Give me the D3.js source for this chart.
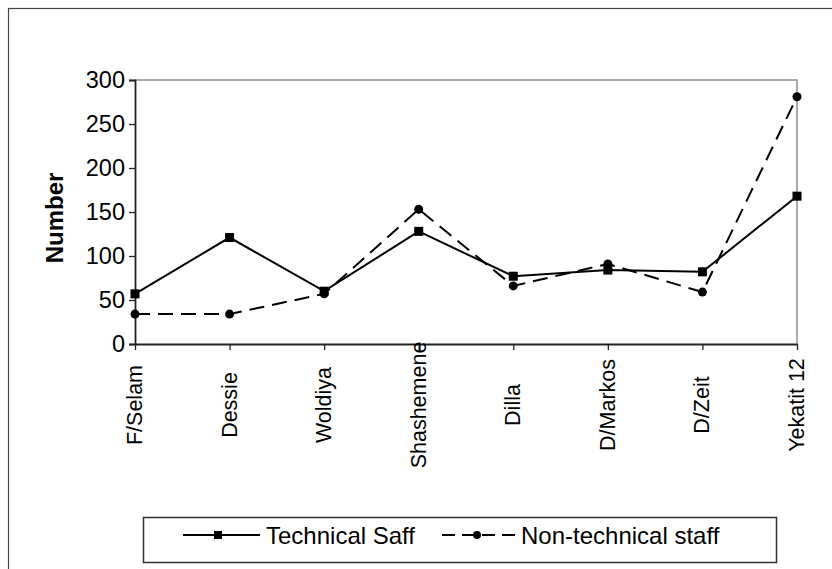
<!DOCTYPE html>
<meta charset="utf-8">
<style>
  body { margin: 0; background: #fff; }
  text { font-family: "Liberation Sans", Arial, sans-serif; fill: #000; }
</style>
<body>
<div class="chart"></div>

<script src="https://d3js.org/d3.v7.min.js"></script>
<script>

// data
var hospitals = ["F/Selam", "Dessie", "Woldiya", "Shashemene", "Dilla", "D/Markos", "D/Zeit", "Yekatit 12"];
var technical = [57, 121, 60, 128, 77, 84, 82, 168];
var nonTechnical = [34, 34, 57, 153, 66, 91, 59, 281];
var yTicks = [0, 50, 100, 150, 200, 250, 300];
var seriesNames = ["Technical Saff", "Non-technical staff"];

var W = 832, H = 569;
var plot = {left: 135, right: 797, top: 80, bottom: 344};

var svg = d3.select(".chart").append("svg")
    .attr("width", W)
    .attr("height", H);

// outer chart border (runs off the right / bottom edge)
svg.append("rect")
    .attr("x", 8.5).attr("y", 8.5)
    .attr("width", W).attr("height", H)
    .attr("fill", "none")
    .attr("stroke", "#444")
    .attr("stroke-width", 1.2);

var x = d3.scalePoint().domain(hospitals).range([plot.left, plot.right]);
var y = d3.scaleLinear().domain([0, 300]).range([plot.bottom, plot.top]);

// plot area frame (grey top / right)
svg.append("path")
    .attr("d", "M" + plot.left + "," + plot.top + "H" + plot.right + "V" + plot.bottom)
    .attr("fill", "none")
    .attr("stroke", "#8c8c8c")
    .attr("stroke-width", 1.5);

// y axis
var yAxis = svg.append("g")
    .attr("transform", "translate(" + plot.left + ",0)")
    .call(d3.axisLeft(y).tickValues(yTicks).tickSize(6).tickPadding(4));
yAxis.select(".domain").attr("stroke", "#222").attr("stroke-width", 1.8);
yAxis.selectAll(".tick line").attr("stroke", "#222").attr("stroke-width", 1.3);
yAxis.selectAll("text")
    .style("font-family", "'Liberation Sans', Arial, sans-serif")
    .attr("font-size", "23.5px")
    .attr("fill", "#000");

// x axis, labels turned on their side
var xAxis = svg.append("g")
    .attr("transform", "translate(0," + plot.bottom + ")")
    .call(d3.axisBottom(x).tickSize(6).tickSizeOuter(0));
xAxis.select(".domain").attr("stroke", "#222").attr("stroke-width", 1.8);
xAxis.selectAll(".tick line").attr("stroke", "#222").attr("stroke-width", 1.3);
xAxis.selectAll("text")
    .style("font-family", "'Liberation Sans', Arial, sans-serif")
    .attr("font-size", "21.5px")
    .attr("fill", "#000")
    .attr("text-anchor", "middle")
    .attr("transform", "rotate(-90)")
    .attr("x", -61)
    .attr("y", 0)
    .attr("dy", "0.3em");

// y axis title
svg.append("text")
    .attr("transform", "translate(63,218) rotate(-90)")
    .attr("text-anchor", "middle")
    .attr("font-size", "24px")
    .attr("font-weight", "bold")
    .text("Number");

// lines
var line = function(vals) {
  return d3.line()
      .x(function(d, i) { return x(hospitals[i]); })
      .y(function(d) { return y(d); })(vals);
};

svg.append("path")
    .attr("d", line(nonTechnical))
    .attr("fill", "none")
    .attr("stroke", "#000")
    .attr("stroke-width", 2)
    .attr("stroke-dasharray", "15,8");

svg.append("path")
    .attr("d", line(technical))
    .attr("fill", "none")
    .attr("stroke", "#000")
    .attr("stroke-width", 2);

// markers
svg.selectAll(".dot")
    .data(nonTechnical)
  .enter().append("circle")
    .attr("class", "dot")
    .attr("cx", function(d, i) { return x(hospitals[i]); })
    .attr("cy", function(d) { return y(d); })
    .attr("r", 4.5)
    .attr("fill", "#000");

svg.selectAll(".sq")
    .data(technical)
  .enter().append("rect")
    .attr("class", "sq")
    .attr("x", function(d, i) { return x(hospitals[i]) - 4.5; })
    .attr("y", function(d) { return y(d) - 4.5; })
    .attr("width", 9)
    .attr("height", 9)
    .attr("fill", "#000");

// legend
var leg = svg.append("g");
leg.append("rect")
    .attr("x", 143.5).attr("y", 517.5)
    .attr("width", 633).attr("height", 45)
    .attr("fill", "#fff")
    .attr("stroke", "#333")
    .attr("stroke-width", 1.5);

var ly = 535;
leg.append("line")
    .attr("x1", 183).attr("x2", 260).attr("y1", ly).attr("y2", ly)
    .attr("stroke", "#000").attr("stroke-width", 2);
leg.append("rect")
    .attr("x", 214).attr("y", ly - 4).attr("width", 8).attr("height", 8)
    .attr("fill", "#000");
leg.append("text")
    .attr("x", 266).attr("y", 544)
    .attr("font-size", "24px")
    .text(seriesNames[0]);

leg.append("line")
    .attr("x1", 442).attr("x2", 516).attr("y1", ly).attr("y2", ly)
    .attr("stroke", "#000").attr("stroke-width", 2)
    .attr("stroke-dasharray", "13,7");
leg.append("circle")
    .attr("cx", 477).attr("cy", ly).attr("r", 4)
    .attr("fill", "#000");
leg.append("text")
    .attr("x", 521).attr("y", 544)
    .attr("font-size", "24px")
    .text(seriesNames[1]);

</script>
</body>
